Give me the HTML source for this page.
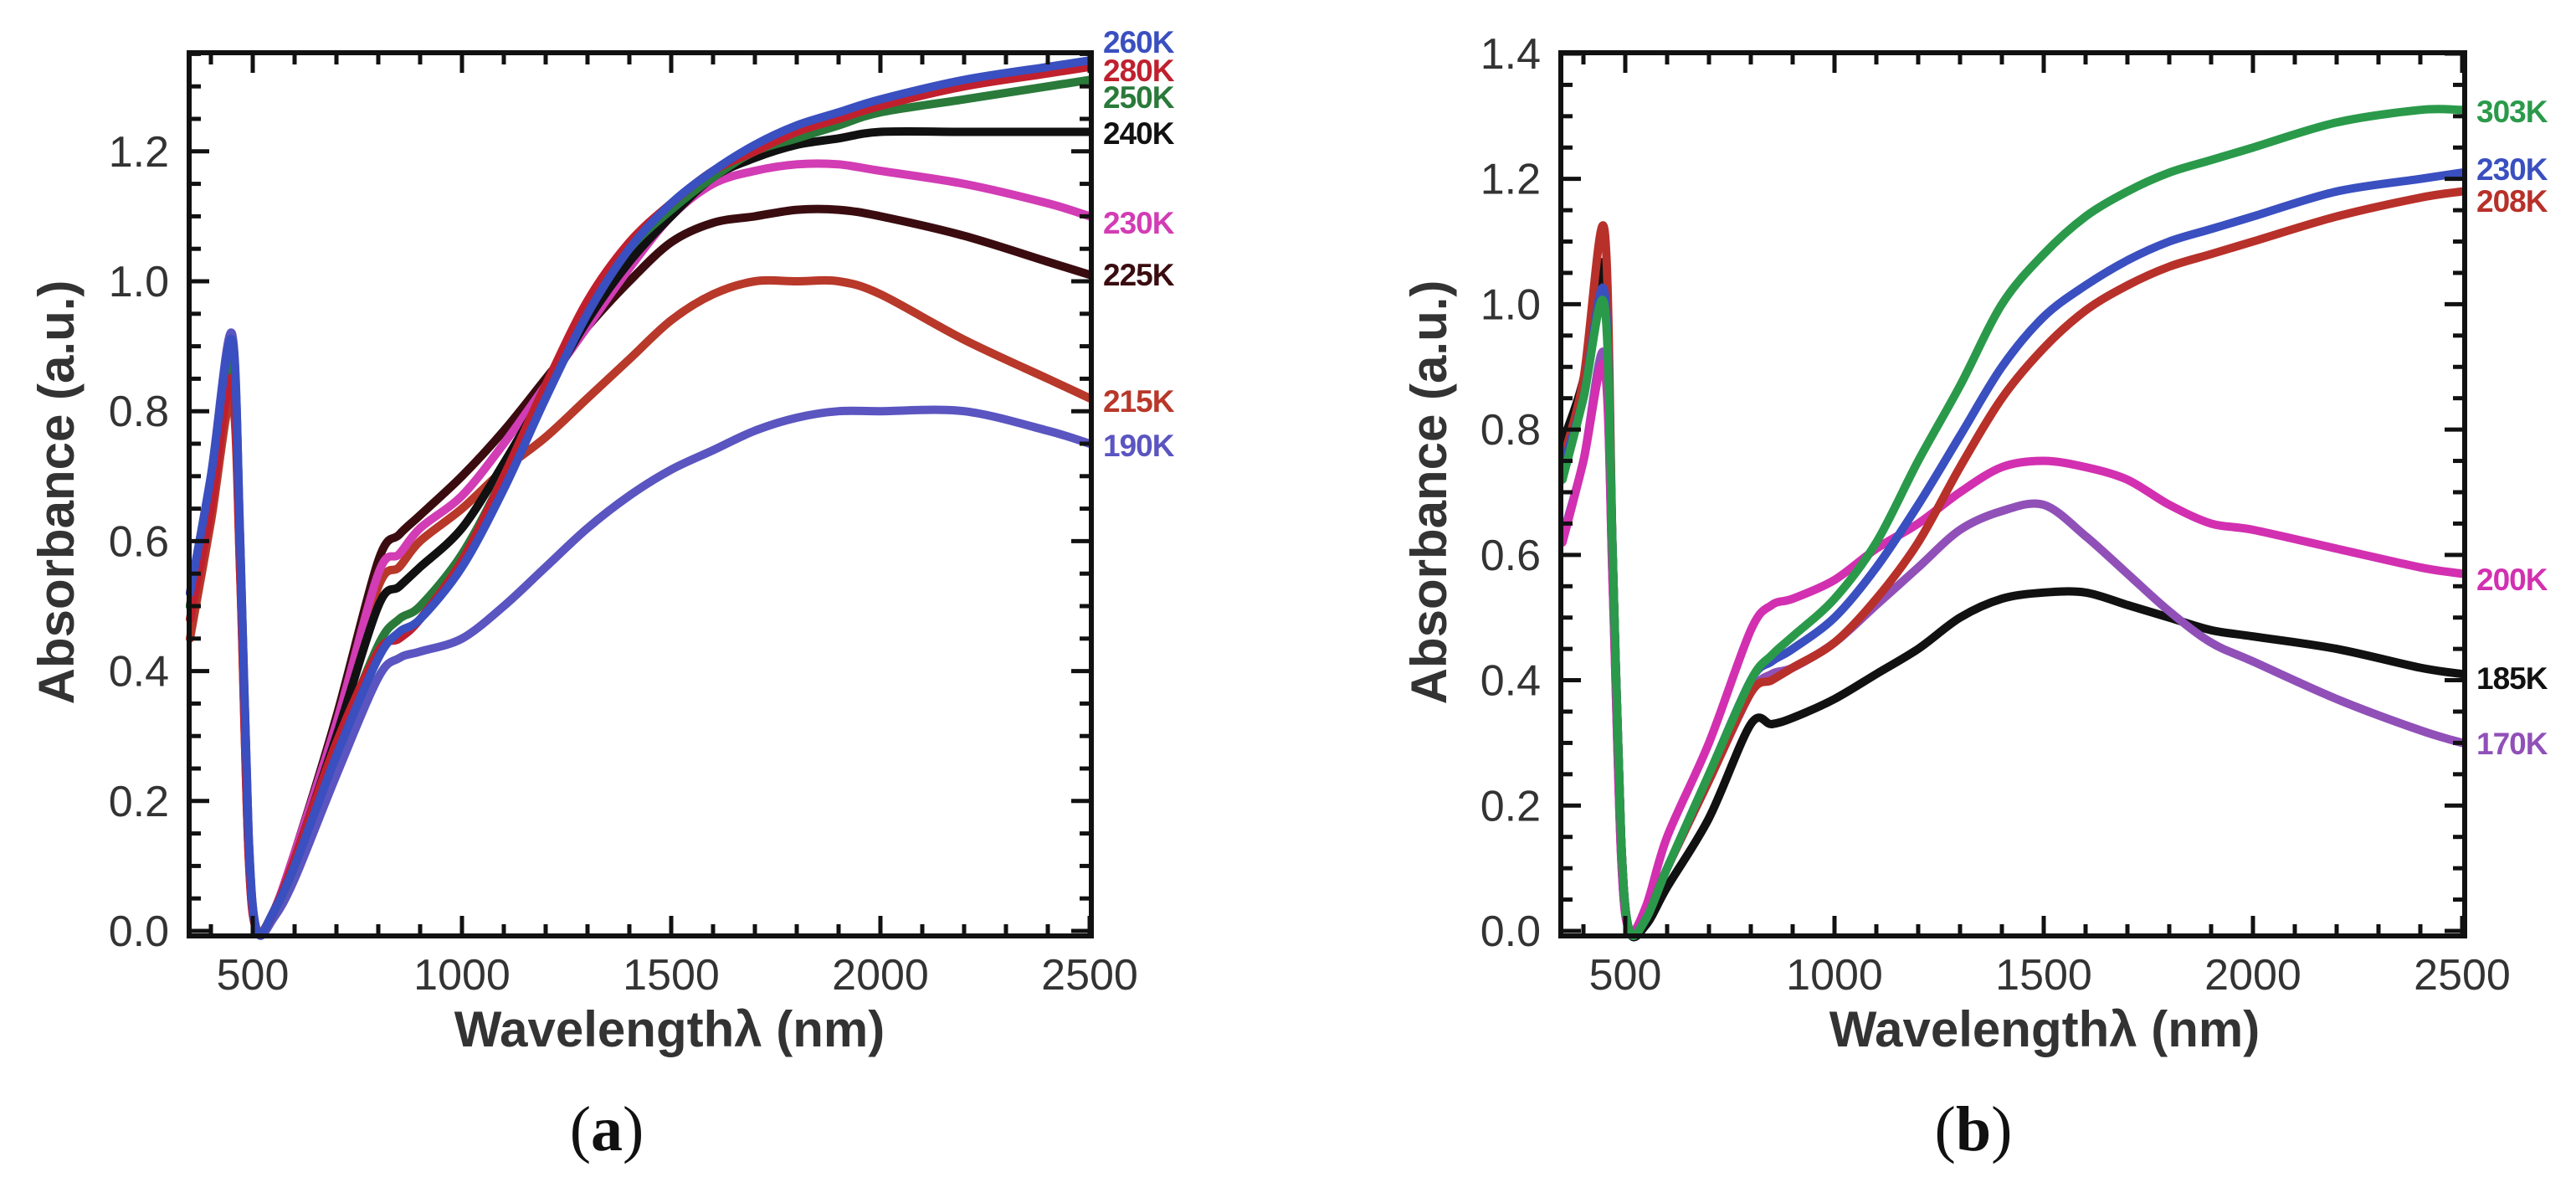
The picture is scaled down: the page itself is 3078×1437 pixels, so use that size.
<!DOCTYPE html>
<html><head><meta charset="utf-8">
<style>
html,body{margin:0;padding:0;background:#fff;}
svg{display:block;}
text{font-family:"Liberation Sans",Arial,sans-serif;}
</style></head>
<body>
<svg id="fig" width="3078" height="1437" viewBox="0 0 3078 1437" xmlns="http://www.w3.org/2000/svg"></svg>
<script>
// ---------- data ----------
const wavelengths = [350,400,450,470,490,510,550,600,700,800,850,900,1000,1100,1200,1300,1400,1500,1600,1700,1800,1900,2000,2200,2400,2500];

const seriesNamesA = ['260K','280K','250K','240K','230K','225K','215K','190K'];
const a260 = [.52,.7,.91,.6,.15,.0,.03,.1,.27,.42,.46,.48,.56,.68,.82,.95,1.05,1.12,1.17,1.21,1.24,1.26,1.28,1.31,1.33,1.34];
const a280 = [.48,.65,.85,.55,.12,.0,.03,.11,.29,.43,.45,.48,.57,.7,.84,.97,1.06,1.12,1.17,1.2,1.23,1.25,1.27,1.3,1.32,1.33];
const a250 = [.5,.68,.88,.58,.13,.0,.03,.1,.28,.44,.48,.5,.58,.7,.84,.96,1.05,1.11,1.16,1.2,1.22,1.24,1.26,1.28,1.3,1.31];
const a240 = [.5,.68,.88,.58,.13,.0,.03,.11,.3,.5,.53,.56,.62,.72,.83,.94,1.03,1.1,1.16,1.19,1.21,1.22,1.23,1.23,1.23,1.23];
const a230 = [.5,.68,.88,.58,.13,.0,.03,.12,.32,.55,.58,.62,.67,.75,.84,.93,1.02,1.1,1.15,1.17,1.18,1.18,1.17,1.15,1.12,1.1];
const a225 = [.5,.68,.88,.58,.13,.0,.03,.12,.33,.57,.61,.64,.7,.77,.85,.93,1.0,1.06,1.09,1.1,1.11,1.11,1.1,1.07,1.03,1.01];
const a215 = [.45,.63,.82,.55,.12,.0,.03,.12,.32,.53,.56,.6,.65,.71,.76,.82,.88,.94,.98,1.0,1.0,1.0,.98,.91,.85,.82];
const a190 = [.52,.7,.92,.6,.15,.0,.02,.08,.24,.39,.42,.43,.45,.5,.56,.62,.67,.71,.74,.77,.79,.8,.8,.8,.77,.75];

const seriesNamesB = ['303K','230K','208K','200K','185K','170K'];
const b303 = [.72,.85,1.0,.6,.15,.0,.02,.1,.25,.4,.44,.47,.53,.62,.75,.87,1.0,1.08,1.14,1.18,1.21,1.23,1.25,1.29,1.31,1.31];
const b230 = [.74,.85,1.02,.6,.15,.0,.02,.1,.25,.4,.43,.45,.5,.58,.68,.79,.9,.98,1.03,1.07,1.1,1.12,1.14,1.18,1.2,1.21];
const b208 = [.75,.88,1.12,.6,.15,.0,.02,.1,.24,.38,.4,.42,.46,.53,.62,.74,.85,.93,.99,1.03,1.06,1.08,1.1,1.14,1.17,1.18];
const b200 = [.62,.75,.9,.55,.12,.0,.04,.15,.3,.48,.52,.53,.56,.61,.65,.7,.74,.75,.74,.72,.68,.65,.64,.61,.58,.57];
const b185 = [.78,.88,1.06,.6,.15,.0,.01,.07,.18,.33,.33,.34,.37,.41,.45,.5,.53,.54,.54,.52,.5,.48,.47,.45,.42,.41];
const b170 = [.63,.75,.92,.55,.12,.0,.02,.1,.24,.38,.41,.42,.46,.52,.58,.64,.67,.68,.63,.57,.51,.46,.43,.37,.32,.3];

const xTickLabels = [500,1000,1500,2000,2500];
const yTickLabelsA = [0.0,0.2,0.4,0.6,0.8,1.0,1.2];
const yTickLabelsB = [0.0,0.2,0.4,0.6,0.8,1.0,1.2,1.4];

// ---------- drawing ----------
const NS = 'http://www.w3.org/2000/svg';
const svg = document.getElementById('fig');
function mk(tag, attrs, parent){
  const e = document.createElementNS(NS, tag);
  for (const k in attrs) e.setAttribute(k, attrs[k]);
  (parent||svg).appendChild(e);
  return e;
}
function smoothPath(pts){
  let d = 'M' + pts[0][0].toFixed(1) + ' ' + pts[0][1].toFixed(1);
  for (let i = 0; i < pts.length - 1; i++) {
    const p0 = pts[Math.max(0, i-1)], p1 = pts[i], p2 = pts[i+1], p3 = pts[Math.min(pts.length-1, i+2)];
    const t = 0.16;
    const c1 = [p1[0] + (p2[0]-p0[0])*t, p1[1] + (p2[1]-p0[1])*t];
    const c2 = [p2[0] - (p3[0]-p1[0])*t, p2[1] - (p3[1]-p1[1])*t];
    d += ' C' + c1[0].toFixed(1) + ' ' + c1[1].toFixed(1) + ' ' + c2[0].toFixed(1) + ' ' + c2[1].toFixed(1) + ' ' + p2[0].toFixed(1) + ' ' + p2[1].toFixed(1);
  }
  return d;
}

function panel(cfg){
  const g = mk('g', {});
  
  
  const xS = v => cfg.x500 + (v - 500) * cfg.pxPerNm;
  const yS = v => cfg.y0 - v * cfg.pxPerUnit;

  cfg.series.forEach((s) => {
    const pts = wavelengths.map((w, j) => [xS(w), yS(s.vals[j])]);
    const p = mk('path', {d: smoothPath(pts), fill: 'none', stroke: s.color, 'stroke-width': 10, 'stroke-linejoin': 'round', 'stroke-linecap': 'round'}, g);
    
    
    const t = mk('text', {x: cfg.right + 14, y: s.labelY + 13, 'font-size': 37, 'font-weight': 'bold', fill: s.color, 'letter-spacing': '-1'}, g);
    t.textContent = s.label;
    
    
  });

  const fr = mk('rect', {x: cfg.left, y: cfg.top, width: cfg.right - cfg.left, height: cfg.bottom - cfg.top, fill: 'none', stroke: '#111', 'stroke-width': 6}, g);
  
  

  for (let w = 400; w <= 2500; w += 100) {
    const x = xS(w);
    if (x < cfg.left || x > cfg.right + 1) continue;
    const len = (w % 500 === 0) ? 24 : 14;
    mk('line', {x1: x, y1: cfg.bottom, x2: x, y2: cfg.bottom - len, stroke: '#111', 'stroke-width': 5}, g);
    mk('line', {x1: x, y1: cfg.top, x2: x, y2: cfg.top + len, stroke: '#111', 'stroke-width': 5}, g);
  }
  xTickLabels.forEach(v => {
    const t = mk('text', {x: xS(v), y: cfg.bottom + 64, 'font-size': 52, fill: '#333', 'text-anchor': 'middle'}, g);
    t.textContent = v;
    
    
  });
  for (let k = 0; k * 0.05 <= cfg.ymax + 1e-6; k++) {
    const y = yS(k * 0.05);
    const len = (k % 4 === 0) ? 24 : 14;
    mk('line', {x1: cfg.left, y1: y, x2: cfg.left + len, y2: y, stroke: '#111', 'stroke-width': 5}, g);
    mk('line', {x1: cfg.right, y1: y, x2: cfg.right - len, y2: y, stroke: '#111', 'stroke-width': 5}, g);
  }
  cfg.yLabels.forEach(v => {
    const t = mk('text', {x: cfg.left - 24, y: yS(v) + 18, 'font-size': 52, fill: '#333', 'text-anchor': 'end'}, g);
    t.textContent = v.toFixed(1);
    
    
  });
  const xt = mk('text', {x: cfg.xTitleX, y: cfg.bottom + 132, 'font-size': 60, 'font-weight': 'bold', fill: '#333', 'text-anchor': 'middle'}, g);
  xt.textContent = 'Wavelength\u03BB (nm)';
  
  
  const yt = mk('text', {x: 0, y: 0, 'font-size': 60, 'font-weight': 'bold', fill: '#333', 'text-anchor': 'middle', transform: 'translate(' + cfg.yTitleX + ',588) rotate(-90)'}, g);
  yt.textContent = 'Absorbance (a.u.)';
  
  
  const c = mk('text', {x: cfg.capX, y: 1374, 'font-size': 76, fill: '#111', 'text-anchor': 'middle', style: 'font-family:"Liberation Serif",serif'}, g);
  c.innerHTML = '(<tspan font-weight="bold">' + cfg.cap + '</tspan>)';
  
  
}

panel({
  name: 'panel-a', left: 226, right: 1304, top: 63, bottom: 1118,
  x500: 302, pxPerNm: 0.5, y0: 1112, pxPerUnit: 776, ymax: 1.35,
  yLabels: yTickLabelsA, xTitleX: 800, yTitleX: 88, capX: 725, cap: 'a',
  series: [
    {label: '190K', vals: a190, color: '#5a55c0', labelY: 532},
    {label: '215K', vals: a215, color: '#b8382a', labelY: 479},
    {label: '225K', vals: a225, color: '#3a0c10', labelY: 328},
    {label: '230K', vals: a230, color: '#d23cb4', labelY: 266},
    {label: '240K', vals: a240, color: '#111111', labelY: 159},
    {label: '250K', vals: a250, color: '#2a7a3a', labelY: 116},
    {label: '280K', vals: a280, color: '#c0202e', labelY: 84},
    {label: '260K', vals: a260, color: '#3a4fc0', labelY: 50}
  ]
});
panel({
  name: 'panel-b', left: 1865, right: 2945, top: 63, bottom: 1118,
  x500: 1942, pxPerNm: 0.5, y0: 1112, pxPerUnit: 748.6, ymax: 1.4,
  yLabels: yTickLabelsB, xTitleX: 2443, yTitleX: 1728, capX: 2358, cap: 'b',
  series: [
    {label: '185K', vals: b185, color: '#111111', labelY: 810},
    {label: '170K', vals: b170, color: '#9050b8', labelY: 888},
    {label: '200K', vals: b200, color: '#d230b0', labelY: 692},
    {label: '208K', vals: b208, color: '#b8302a', labelY: 240},
    {label: '230K', vals: b230, color: '#3a4fc0', labelY: 202},
    {label: '303K', vals: b303, color: '#2a9a4a', labelY: 133}
  ]
});
</script>
</body></html>
